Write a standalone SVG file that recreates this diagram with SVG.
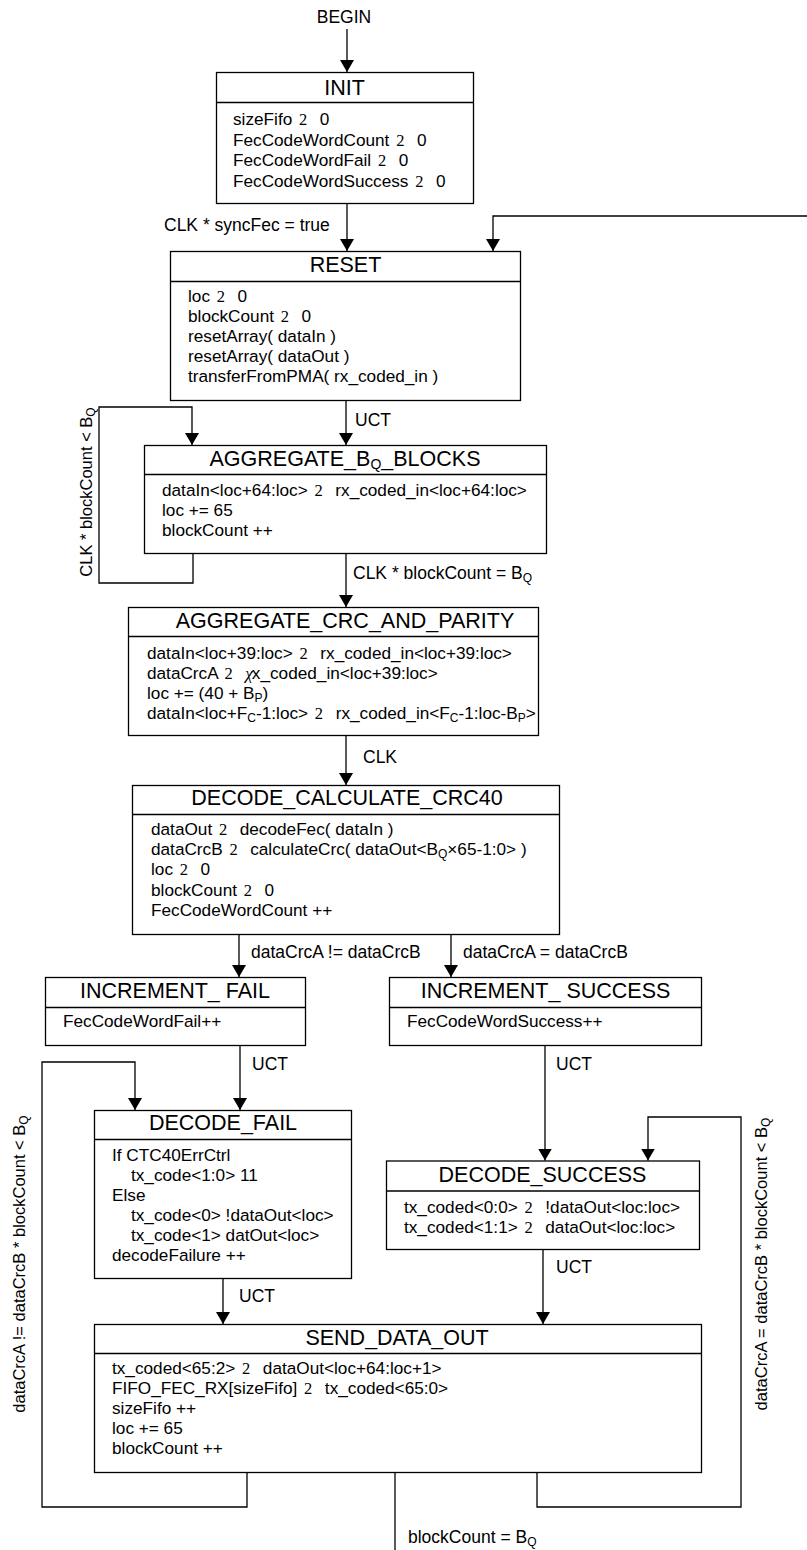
<svg xmlns="http://www.w3.org/2000/svg" width="807" height="1550" viewBox="0 0 807 1550" xml:space="preserve">
<defs>
<marker id="ah" markerUnits="userSpaceOnUse" markerWidth="12" markerHeight="14" refX="12" refY="7" orient="auto" viewBox="0 0 12 14">
<path d="M0,0 L12,7 L0,14 z" fill="#000"/>
</marker>
<style>
text{font-family:"Liberation Sans",Arial,Helvetica,sans-serif;fill:#000;white-space:pre}
.t{font-size:21.5px;text-anchor:middle}
.b{font-size:17.2px}
.l{font-size:17.5px}
.r{font-size:16.5px;text-anchor:middle}
.m{text-anchor:middle}
.s{font-family:"Liberation Serif","Times New Roman",serif;font-size:16.5px}
.x{font-family:"Liberation Serif","Times New Roman",serif;font-style:italic}
.q{font-size:12px}
.box{fill:#fff;stroke:#000;stroke-width:1.3}
.hd{stroke:#000;stroke-width:1.3}
.c{fill:none;stroke:#000;stroke-width:1.3}
.a{marker-end:url(#ah)}
</style>
</defs>
<rect width="807" height="1550" fill="#fff"/>

<g id="connectors">
<path class="c a" d="M347,29 V72"/>
<path class="c a" d="M347,203.5 V251"/>
<path class="c a" d="M807,216 H493 V251"/>
<path class="c a" d="M346,400.5 V445"/>
<path class="c a" d="M193,553.5 V583 H99 V407 H192 V445"/>
<path class="c a" d="M346,553.5 V607"/>
<path class="c a" d="M346,735.5 V785"/>
<path class="c a" d="M239,934.5 V977"/>
<path class="c a" d="M451,934.5 V977"/>
<path class="c a" d="M240,1045.5 V1110"/>
<path class="c a" d="M545,1045.5 V1160.5"/>
<path class="c a" d="M223,1278.5 V1324"/>
<path class="c a" d="M543,1249.5 V1324"/>
<path class="c a" d="M247,1472.5 V1507 H42 V1062 H135 V1110"/>
<path class="c a" d="M537,1472.5 V1507 H741 V1117 H648 V1160.5"/>
<path class="c" d="M395,1472.5 V1550"/>
<text class="l m" x="344" y="23">BEGIN</text>
<text class="l" x="164" y="231">CLK * syncFec = true</text>
<text class="l" x="355" y="426">UCT</text>
<text class="r" transform="translate(92,492) rotate(-90)">CLK * blockCount &lt; B<tspan class="q" dy="3">Q</tspan></text>
<text class="l" x="353" y="579">CLK * blockCount = B<tspan class="q" dy="3">Q</tspan></text>
<text class="l" x="363" y="763">CLK</text>
<text class="l" x="251" y="958">dataCrcA != dataCrcB</text>
<text class="l" x="463" y="958">dataCrcA = dataCrcB</text>
<text class="l" x="252" y="1070">UCT</text>
<text class="l" x="556" y="1070">UCT</text>
<text class="l" x="239" y="1302">UCT</text>
<text class="l" x="556" y="1273">UCT</text>
<text class="r" transform="translate(25,1264) rotate(-90)">dataCrcA != dataCrcB * blockCount &lt; B<tspan class="q" dy="3">Q</tspan></text>
<text class="r" transform="translate(767,1264) rotate(-90)">dataCrcA = dataCrcB * blockCount &lt; B<tspan class="q" dy="3">Q</tspan></text>
<text class="l" x="408" y="1543">blockCount = B<tspan class="q" dy="3">Q</tspan></text>
</g>

<g id="INIT">
<rect class="box" x="216.5" y="72.5" width="257" height="131"/>
<line class="hd" x1="216.5" y1="102.5" x2="473.5" y2="102.5"/>
<text class="t" x="344.5" y="95">INIT</text>
<text class="b" x="233" y="125">sizeFifo <tspan class="s" dx="2">2</tspan><tspan dx="3">  0</tspan></text>
<text class="b" x="233" y="146">FecCodeWordCount <tspan class="s" dx="2">2</tspan><tspan dx="3">  0</tspan></text>
<text class="b" x="233" y="166">FecCodeWordFail <tspan class="s" dx="2">2</tspan><tspan dx="3">  0</tspan></text>
<text class="b" x="233" y="187">FecCodeWordSuccess <tspan class="s" dx="2">2</tspan><tspan dx="3">  0</tspan></text>
</g>

<g id="RESET">
<rect class="box" x="170.5" y="251.5" width="350" height="149"/>
<line class="hd" x1="170.5" y1="281.5" x2="520.5" y2="281.5"/>
<text class="t" x="345.5" y="272">RESET</text>
<text class="b" x="188" y="302">loc <tspan class="s" dx="2">2</tspan><tspan dx="3">  0</tspan></text>
<text class="b" x="188" y="322">blockCount <tspan class="s" dx="2">2</tspan><tspan dx="3">  0</tspan></text>
<text class="b" x="188" y="342">resetArray( dataIn )</text>
<text class="b" x="188" y="362">resetArray( dataOut )</text>
<text class="b" x="188" y="382">transferFromPMA( rx_coded_in )</text>
</g>

<g id="AGGREGATE_BQ_BLOCKS">
<rect class="box" x="144.5" y="445.5" width="402" height="108"/>
<line class="hd" x1="144.5" y1="474.5" x2="546.5" y2="474.5"/>
<text class="t" x="345" y="466">AGGREGATE_B<tspan class="q" style="font-size:14px" dy="3">Q</tspan><tspan dy="-3">_BLOCKS</tspan></text>
<text class="b" x="162" y="496">dataIn&lt;loc+64:loc&gt; <tspan class="s" dx="2">2</tspan><tspan dx="3">  rx_coded_in&lt;loc+64:loc&gt;</tspan></text>
<text class="b" x="162" y="516">loc += 65</text>
<text class="b" x="162" y="536">blockCount ++</text>
</g>

<g id="AGGREGATE_CRC_AND_PARITY">
<rect class="box" x="128.5" y="607.5" width="410" height="128"/>
<line class="hd" x1="128.5" y1="636.5" x2="538.5" y2="636.5"/>
<text class="t" x="345" y="628">AGGREGATE_CRC_AND_PARITY</text>
<text class="b" x="147" y="659">dataIn&lt;loc+39:loc&gt; <tspan class="s" dx="2">2</tspan><tspan dx="3">  rx_coded_in&lt;loc+39:loc&gt;</tspan></text>
<text class="b" x="147" y="679">dataCrcA <tspan class="s" dx="2">2</tspan><tspan dx="3">  </tspan><tspan class="x">χ</tspan><tspan dx="-1">x_coded_in&lt;loc+39:loc&gt;</tspan></text>
<text class="b" x="147" y="699">loc += (40 + B<tspan class="q" dy="3">P</tspan><tspan dy="-3">)</tspan></text>
<text class="b" x="147" y="719">dataIn&lt;loc+F<tspan class="q" dy="3">C</tspan><tspan dy="-3">-1:loc&gt; </tspan><tspan class="s" dx="2">2</tspan><tspan dx="3">  rx_coded_in&lt;F</tspan><tspan class="q" dy="3">C</tspan><tspan dy="-3">-1:loc-B</tspan><tspan class="q" dy="3">P</tspan><tspan dy="-3">&gt;</tspan></text>
</g>

<g id="DECODE_CALCULATE_CRC40">
<rect class="box" x="132.5" y="785.5" width="427" height="149"/>
<line class="hd" x1="132.5" y1="814.5" x2="559.5" y2="814.5"/>
<text class="t" x="347" y="805">DECODE_CALCULATE_CRC40</text>
<text class="b" x="151" y="835">dataOut <tspan class="s" dx="2">2</tspan><tspan dx="3">  decodeFec( dataIn )</tspan></text>
<text class="b" x="151" y="855">dataCrcB <tspan class="s" dx="2">2</tspan><tspan dx="3">  calculateCrc( dataOut&lt;B</tspan><tspan class="q" dy="3">Q</tspan><tspan dy="-3">×65-1:0&gt; )</tspan></text>
<text class="b" x="151" y="875">loc <tspan class="s" dx="2">2</tspan><tspan dx="3">  0</tspan></text>
<text class="b" x="151" y="896">blockCount <tspan class="s" dx="2">2</tspan><tspan dx="3">  0</tspan></text>
<text class="b" x="151" y="916">FecCodeWordCount ++</text>
</g>

<g id="INCREMENT_FAIL">
<rect class="box" x="45.5" y="977.5" width="260" height="68"/>
<line class="hd" x1="45.5" y1="1007.5" x2="305.5" y2="1007.5"/>
<text class="t" x="175" y="998">INCREMENT_ FAIL</text>
<text class="b" x="63" y="1027">FecCodeWordFail++</text>
</g>

<g id="INCREMENT_SUCCESS">
<rect class="box" x="389.5" y="977.5" width="312" height="68"/>
<line class="hd" x1="389.5" y1="1007.5" x2="701.5" y2="1007.5"/>
<text class="t" x="545.5" y="998">INCREMENT_ SUCCESS</text>
<text class="b" x="407" y="1027">FecCodeWordSuccess++</text>
</g>

<g id="DECODE_FAIL">
<rect class="box" x="94.5" y="1110.5" width="257" height="168"/>
<line class="hd" x1="94.5" y1="1139.5" x2="351.5" y2="1139.5"/>
<text class="t" x="223" y="1130">DECODE_FAIL</text>
<text class="b" x="112" y="1161">If CTC40ErrCtrl</text>
<text class="b" x="131" y="1181">tx_code&lt;1:0&gt; 11</text>
<text class="b" x="112" y="1201">Else</text>
<text class="b" x="131" y="1221">tx_code&lt;0&gt; !dataOut&lt;loc&gt;</text>
<text class="b" x="131" y="1241">tx_code&lt;1&gt; datOut&lt;loc&gt;</text>
<text class="b" x="112" y="1261">decodeFailure ++</text>
</g>

<g id="DECODE_SUCCESS">
<rect class="box" x="386.5" y="1161" width="313" height="88.5"/>
<line class="hd" x1="386.5" y1="1191" x2="699.5" y2="1191"/>
<text class="t" x="542.5" y="1182">DECODE_SUCCESS</text>
<text class="b" x="404" y="1213">tx_coded&lt;0:0&gt; <tspan class="s" dx="2">2</tspan><tspan dx="3">  !dataOut&lt;loc:loc&gt;</tspan></text>
<text class="b" x="404" y="1233">tx_coded&lt;1:1&gt; <tspan class="s" dx="2">2</tspan><tspan dx="3">  dataOut&lt;loc:loc&gt;</tspan></text>
</g>

<g id="SEND_DATA_OUT">
<rect class="box" x="94.5" y="1324.5" width="607" height="148"/>
<line class="hd" x1="94.5" y1="1353.5" x2="701.5" y2="1353.5"/>
<text class="t" x="397" y="1345">SEND_DATA_OUT</text>
<text class="b" x="112" y="1374">tx_coded&lt;65:2&gt; <tspan class="s" dx="2">2</tspan><tspan dx="3">  dataOut&lt;loc+64:loc+1&gt;</tspan></text>
<text class="b" x="112" y="1394">FIFO_FEC_RX[sizeFifo] <tspan class="s" dx="2">2</tspan><tspan dx="3">  tx_coded&lt;65:0&gt;</tspan></text>
<text class="b" x="112" y="1414">sizeFifo ++</text>
<text class="b" x="112" y="1434">loc += 65</text>
<text class="b" x="112" y="1454">blockCount ++</text>
</g>
</svg>
